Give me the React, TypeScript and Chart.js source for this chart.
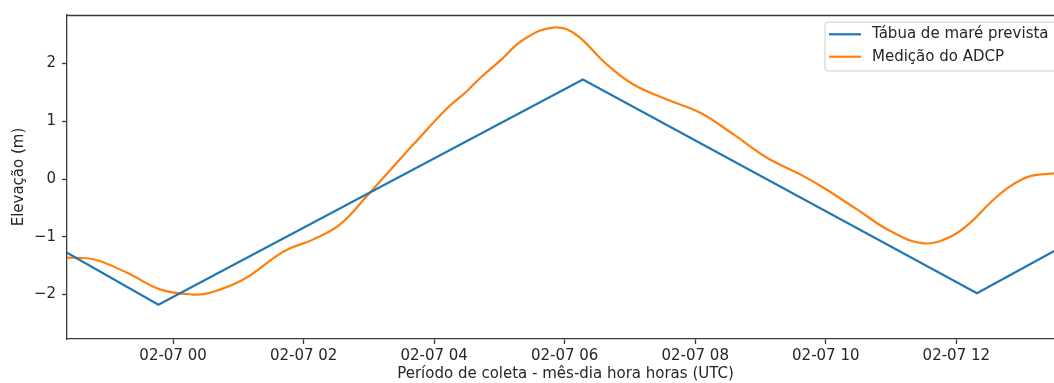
import { useEffect, useRef } from 'react';
import { Chart, registerables } from 'chart.js';

Chart.register(...registerables);

// Hours are counted from 02-07 00:00 UTC.
const tideHours = [-1.625, -0.225, 6.279, 12.317, 13.5];
const tideLevels = [-1.275, -2.175, 1.723, -1.979, -1.247];

const adcpHours = [
  -1.625, -1.221, -0.71, -0.199, 0.311, 0.567, 1.077, 1.589, 1.793, 2.15,
  2.559, 2.969, 3.428, 3.683, 4.195, 4.501, 4.705, 5.011, 5.267, 5.42,
  5.625, 5.828, 6.023, 6.238, 6.647, 7.054, 7.566, 8.077, 8.587, 9.099,
  9.609, 9.966, 10.478, 10.989, 11.499, 11.908, 12.215, 12.521, 12.828, 13.134,
  13.502,
];
const adcpLevels = [
  -1.36, -1.39, -1.62, -1.91, -2.0, -1.97, -1.74, -1.33, -1.2, -1.045,
  -0.785, -0.296, 0.282, 0.6, 1.22, 1.52, 1.75, 2.05, 2.33, 2.45,
  2.57, 2.623, 2.597, 2.445, 1.983, 1.637, 1.377, 1.147, 0.772, 0.369,
  0.08, -0.151, -0.526, -0.901, -1.114, -0.998, -0.756, -0.41, -0.123, 0.05,
  0.097,
];

const xTickHours = [0, 2, 4, 6, 8, 10, 12];
const xTickLabels = ['02-07 00', '02-07 02', '02-07 04', '02-07 06', '02-07 08', '02-07 10', '02-07 12'];
const yTickValues = [-2, -1, 0, 1, 2];

const seriesLabels = ['Tábua de maré prevista', 'Medição do ADCP'];
const seriesColors = ['#1f77b4', '#ff7f0e'];

const FONT = 'DejaVu Sans';
const FONT_SIZE = 15;
const INK = '#262626';
const SPINE = '#3a3a3a';

const toPoints = (xs: number[], ys: number[]) => xs.map((x, i) => ({ x, y: ys[i] }));

// Top spine and a matplotlib-style legend box in the upper right corner.
const framePlugin = {
  id: 'frame',
  afterDatasetsDraw(chart: any) {
    const { ctx, chartArea } = chart;
    ctx.save();
    ctx.strokeStyle = SPINE;
    ctx.lineWidth = 1.3;
    ctx.beginPath();
    ctx.moveTo(chartArea.left, chartArea.top + 0.5);
    ctx.lineTo(chartArea.right, chartArea.top + 0.5);
    ctx.stroke();

    const boxW = 232;
    const boxH = 49;
    const bx = chartArea.right - 7 - boxW;
    const by = chartArea.top + 7;
    const r = 3;
    ctx.beginPath();
    ctx.moveTo(bx + r, by);
    ctx.lineTo(bx + boxW - r, by);
    ctx.arcTo(bx + boxW, by, bx + boxW, by + r, r);
    ctx.lineTo(bx + boxW, by + boxH - r);
    ctx.arcTo(bx + boxW, by + boxH, bx + boxW - r, by + boxH, r);
    ctx.lineTo(bx + r, by + boxH);
    ctx.arcTo(bx, by + boxH, bx, by + boxH - r, r);
    ctx.lineTo(bx, by + r);
    ctx.arcTo(bx, by, bx + r, by, r);
    ctx.closePath();
    ctx.fillStyle = 'rgba(255,255,255,0.8)';
    ctx.fill();
    ctx.strokeStyle = '#cccccc';
    ctx.lineWidth = 1;
    ctx.stroke();

    ctx.font = `${FONT_SIZE}px "${FONT}"`;
    ctx.textBaseline = 'middle';
    ctx.textAlign = 'left';
    chart.data.datasets.forEach((ds: any, i: number) => {
      const cy = by + 12.3 + i * 22.4;
      ctx.strokeStyle = ds.borderColor;
      ctx.lineWidth = 2.2;
      ctx.beginPath();
      ctx.moveTo(bx + 4, cy);
      ctx.lineTo(bx + 36, cy);
      ctx.stroke();
      ctx.fillStyle = INK;
      ctx.fillText(ds.label, bx + 47, cy);
    });
    ctx.restore();
  },
};

export default function App() {
  const canvasRef = useRef<HTMLCanvasElement | null>(null);

  useEffect(() => {
    const canvas = canvasRef.current;
    if (!canvas) return;
    const chart = new Chart(canvas, {
      type: 'line',
      data: {
        datasets: [
          {
            label: seriesLabels[0],
            data: toPoints(tideHours, tideLevels),
            borderColor: seriesColors[0],
            backgroundColor: seriesColors[0],
            borderWidth: 2.2,
            pointRadius: 0,
            tension: 0,
          },
          {
            label: seriesLabels[1],
            data: toPoints(adcpHours, adcpLevels),
            borderColor: seriesColors[1],
            backgroundColor: seriesColors[1],
            borderWidth: 2.2,
            pointRadius: 0,
            tension: 0.4,
          },
        ],
      },
      options: {
        responsive: false,
        animation: false,
        devicePixelRatio: 1,
        layout: { padding: { left: 0, right: 0, top: 15, bottom: 0 } },
        plugins: {
          legend: { display: false },
          tooltip: { enabled: false },
        },
        scales: {
          x: {
            type: 'linear',
            min: -1.625,
            max: 13.65,
            afterFit(scale: any) {
              scale.height = 44;
            },
            afterBuildTicks(scale: any) {
              scale.ticks = xTickHours.map((value) => ({ value }));
            },
            ticks: {
              padding: 3,
              color: INK,
              font: { family: FONT, size: FONT_SIZE },
              maxRotation: 0,
              autoSkip: false,
              callback: (value: any) => {
                const idx = xTickHours.indexOf(Number(value));
                return idx >= 0 ? xTickLabels[idx] : '';
              },
            },
            grid: {
              drawOnChartArea: false,
              drawTicks: true,
              tickLength: 5,
              tickColor: SPINE,
              tickWidth: 1.3,
            },
            border: { display: true, color: SPINE, width: 1.3 },
            title: {
              display: true,
              text: 'Período de coleta - mês-dia hora horas (UTC)',
              color: INK,
              font: { family: FONT, size: FONT_SIZE },
              padding: { top: 0, bottom: 0 },
            },
          },
          y: {
            type: 'linear',
            min: -2.77,
            max: 2.84,
            afterFit(scale: any) {
              scale.width = 67;
            },
            afterBuildTicks(scale: any) {
              scale.ticks = yTickValues.map((value) => ({ value }));
            },
            ticks: {
              padding: 6,
              color: INK,
              font: { family: FONT, size: FONT_SIZE },
              callback: (value: any) => {
                const v = Number(value);
                return v < 0 ? `\u2212${Math.abs(v)}` : `${v}`;
              },
            },
            grid: {
              drawOnChartArea: false,
              drawTicks: true,
              tickLength: 5,
              tickColor: SPINE,
              tickWidth: 1.3,
            },
            border: { display: true, color: SPINE, width: 1.3 },
            title: {
              display: true,
              text: 'Elevação (m)',
              color: INK,
              font: { family: FONT, size: FONT_SIZE },
              padding: { top: 10, bottom: 0 },
            },
          },
        },
      },
      plugins: [framePlugin],
    });
    return () => chart.destroy();
  }, []);

  return (
    <div
      style={{
        position: 'fixed',
        left: 0,
        top: 0,
        width: 1054,
        height: 383,
        overflow: 'hidden',
        background: '#ffffff',
      }}
    >
      <canvas ref={canvasRef} width={1064} height={383} style={{ display: 'block' }} />
    </div>
  );
}
